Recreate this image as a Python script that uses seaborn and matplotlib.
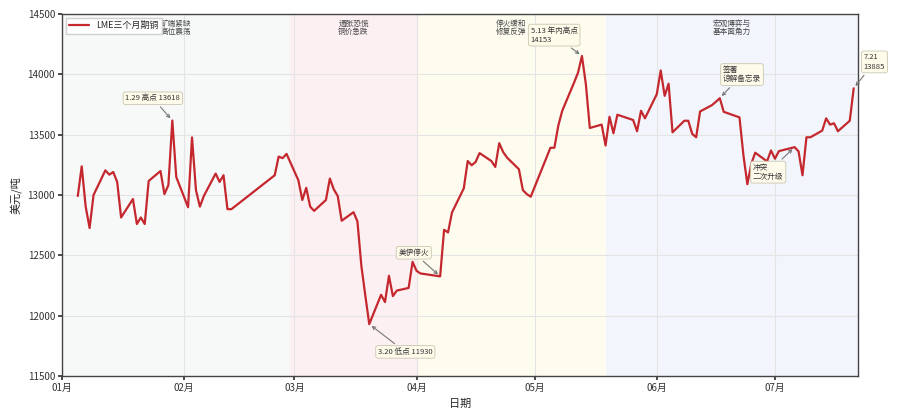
import matplotlib
matplotlib.use("Agg")
import matplotlib.pyplot as plt
import matplotlib.dates as mdates
import pandas as pd
import seaborn as sns

# LME 3M copper close, 2026
dates = [
    "2026-01-05", "2026-01-06", "2026-01-07", "2026-01-08", "2026-01-09",
    "2026-01-12", "2026-01-13", "2026-01-14", "2026-01-15", "2026-01-16",
    "2026-01-19", "2026-01-20", "2026-01-21", "2026-01-22", "2026-01-23",
    "2026-01-26", "2026-01-27", "2026-01-28", "2026-01-29", "2026-01-30",
    "2026-02-02", "2026-02-03", "2026-02-04", "2026-02-05", "2026-02-06",
    "2026-02-09", "2026-02-10", "2026-02-11", "2026-02-12", "2026-02-13",
    "2026-02-24", "2026-02-25", "2026-02-26", "2026-02-27",
    "2026-03-02", "2026-03-03", "2026-03-04", "2026-03-05", "2026-03-06",
    "2026-03-09", "2026-03-10", "2026-03-11", "2026-03-12", "2026-03-13",
    "2026-03-16", "2026-03-17", "2026-03-18", "2026-03-19", "2026-03-20",
    "2026-03-23", "2026-03-24", "2026-03-25", "2026-03-26", "2026-03-27",
    "2026-03-30", "2026-03-31", "2026-04-01", "2026-04-02",
    "2026-04-07", "2026-04-08", "2026-04-09", "2026-04-10",
    "2026-04-13", "2026-04-14", "2026-04-15", "2026-04-16", "2026-04-17",
    "2026-04-20", "2026-04-21", "2026-04-22", "2026-04-23", "2026-04-24",
    "2026-04-27", "2026-04-28", "2026-04-29", "2026-04-30",
    "2026-05-05", "2026-05-06", "2026-05-07", "2026-05-08",
    "2026-05-11", "2026-05-12", "2026-05-13", "2026-05-14", "2026-05-15",
    "2026-05-18", "2026-05-19", "2026-05-20", "2026-05-21", "2026-05-22",
    "2026-05-26", "2026-05-27", "2026-05-28", "2026-05-29",
    "2026-06-01", "2026-06-02", "2026-06-03", "2026-06-04", "2026-06-05",
    "2026-06-08", "2026-06-09", "2026-06-10", "2026-06-11", "2026-06-12",
    "2026-06-15", "2026-06-16", "2026-06-17", "2026-06-18",
    "2026-06-22", "2026-06-23", "2026-06-24", "2026-06-25", "2026-06-26",
    "2026-06-29", "2026-06-30", "2026-07-01", "2026-07-02",
    "2026-07-06", "2026-07-07", "2026-07-08", "2026-07-09", "2026-07-10",
    "2026-07-13", "2026-07-14", "2026-07-15", "2026-07-16", "2026-07-17",
    "2026-07-20", "2026-07-21",
]
prices = [
    12992, 13238, 12904, 12727, 13000,
    13205, 13169, 13191, 13109, 12814,
    12967, 12760, 12814, 12760, 13117,
    13199, 13008, 13082, 13618, 13150,
    12899, 13478, 13041, 12904, 12992,
    13178, 13109, 13164, 12883, 12883,
    13164, 13319, 13306, 13341,
    13123, 12959, 13060, 12904, 12869,
    12959, 13137, 13047, 12992, 12787,
    12858, 12782, 12413, 12167, 11930,
    12173, 12113, 12331, 12162, 12208,
    12230, 12446, 12372, 12350,
    12326, 12712, 12690, 12855,
    13055, 13282, 13247, 13274, 13348,
    13282, 13233, 13430, 13356, 13310,
    13214, 13041, 13008, 12986,
    13392, 13392, 13575, 13699,
    13932, 14014, 14153, 13918, 13556,
    13584, 13411, 13649, 13512, 13666,
    13622, 13529, 13699, 13636,
    13836, 14033, 13822, 13923, 13520,
    13616, 13616, 13507, 13479, 13693,
    13745, 13773, 13803, 13690,
    13644, 13329, 13090, 13260, 13351,
    13279, 13370, 13301, 13364,
    13397, 13362, 13164, 13479, 13479,
    13534, 13636, 13584, 13595, 13529,
    13616, 13885,
]

# market phases
phase_starts = ["2026-01-01", "2026-02-28", "2026-04-01", "2026-05-19"]
phase_ends = ["2026-02-28", "2026-04-01", "2026-05-19", "2026-07-22"]
phase_labels = ["矿端紧缺\n高位震荡", "通胀恐慌\n铜价急跌", "停火缓和\n修复反弹", "宏观博弈与\n基本面角力"]
phase_colors = ["#f7f8f8", "#fdf0f3", "#fefbef", "#f2f6fc"]

# event notes
note_dates = ["2026-01-29", "2026-03-20", "2026-04-07", "2026-05-13",
              "2026-06-17", "2026-07-06", "2026-07-21"]
note_texts = ["1.29 高点 13618", "3.20 低点 11930", "美伊停火", "5.13 年内高点\n14153",
              "签署\n谅解备忘录", "冲突\n二次升级", "7.21\n13885"]
note_offsets = [(-14, 16), (26, -20), (-19, 17), (-20, 15), (16, 17), (-19, -18), (15, 19)]

df = pd.DataFrame({"日期": pd.to_datetime(dates), "价格": prices})
series = df.set_index("日期")["价格"]

sns.set_theme(style="whitegrid", rc={
    "axes.edgecolor": "#444444",
    "axes.linewidth": 1.0,
    "grid.color": "#e4e4e4",
    "grid.linewidth": 0.8,
    "xtick.bottom": True,
    "ytick.left": True,
    "xtick.major.size": 3,
    "ytick.major.size": 3,
    "xtick.color": "#333333",
    "ytick.color": "#333333",
})
plt.rcParams["font.family"] = ["Noto Sans CJK SC", "DejaVu Sans"]
plt.rcParams["axes.unicode_minus"] = False

fig, ax = plt.subplots(figsize=(8.99, 4.15), dpi=100)
fig.subplots_adjust(left=0.069, right=0.954, top=0.966, bottom=0.094)

for s, e, lab, c in zip(phase_starts, phase_ends, phase_labels, phase_colors):
    s, e = pd.Timestamp(s), pd.Timestamp(e)
    ax.axvspan(s, e, color=c, lw=0, zorder=0)
    ax.text(s + (e - s) / 2, 0.985, lab, transform=ax.get_xaxis_transform(),
            ha="center", va="top", fontsize=5.5, color="#444444", linespacing=1.0)

sns.lineplot(data=df, x="日期", y="价格", ax=ax, color="#c4282e", lw=1.6,
             label="LME三个月期铜", zorder=3)

for d, t, off in zip(note_dates, note_texts, note_offsets):
    d = pd.Timestamp(d)
    ax.annotate(t, xy=(d, series[d]), xytext=off, textcoords="offset points",
                ha="center", va="center", multialignment="left",
                fontsize=5.5, color="#333333", annotation_clip=False,
                bbox=dict(boxstyle="round,pad=0.3", fc="#fffbea", ec="#c9c6b0", lw=0.6),
                arrowprops=dict(arrowstyle="->", color="#777777", lw=0.8))

ax.set_xlim(pd.Timestamp("2026-01-01"), pd.Timestamp("2026-07-22"))
ax.set_ylim(11500, 14500)
ax.xaxis.set_major_locator(mdates.MonthLocator())
ax.xaxis.set_major_formatter(mdates.DateFormatter("%m月"))
ax.tick_params(labelsize=7, pad=2)
ax.set_xlabel("日期", fontsize=8)
ax.set_ylabel("美元/吨", fontsize=8)
ax.legend(loc="upper left", fontsize=6.5, frameon=True, framealpha=0.9,
          edgecolor="#cccccc", fancybox=False, handlelength=2.2,
          borderaxespad=0.4)

fig.savefig("out.png", dpi=100)
